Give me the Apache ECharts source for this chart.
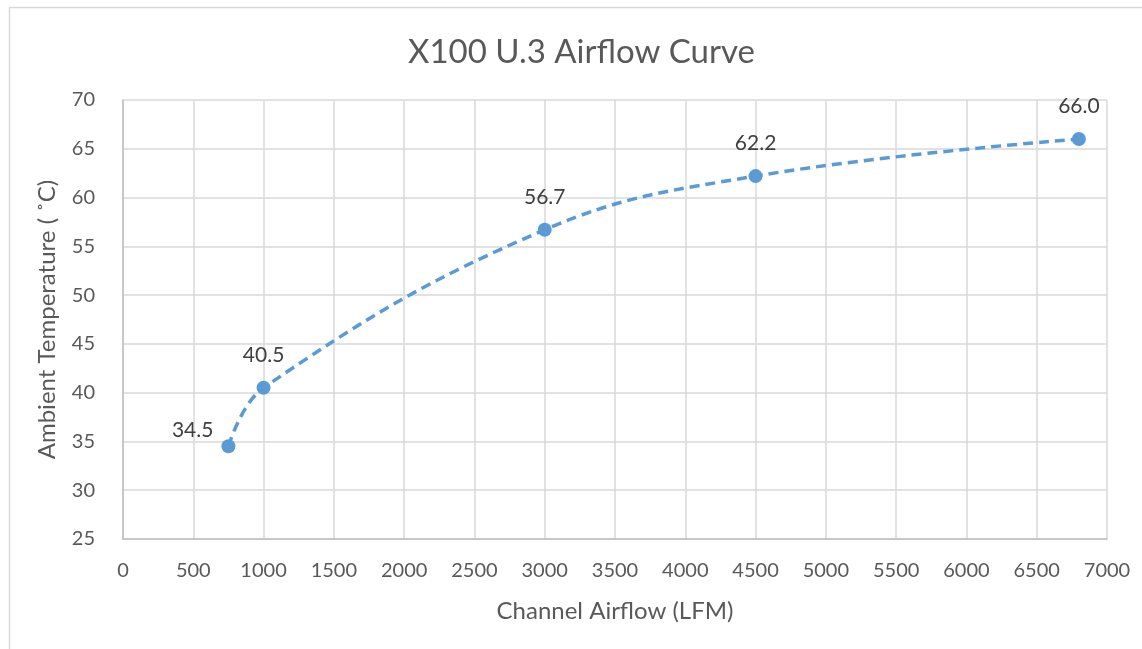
<!DOCTYPE html>
<html><head><meta charset="utf-8">
<script src="https://cdn.jsdelivr.net/npm/echarts@6/dist/echarts.min.js"></script>
<style>html,body{margin:0;padding:0;background:#fff}#c{width:1142px;height:649px}</style>
</head><body><div id="c"></div>
<script>
const airflow = [750, 1000, 3000, 4500, 6800];
const temperature = [34.5, 40.5, 56.7, 62.2, 66.0];
const labelPos = ['left', 'top', 'top', 'top', 'top'];
const titleText = 'X100 U.3 Airflow Curve';
const xName = 'Channel Airflow (LFM)';
const yName = 'Ambient Temperature ( ˚C)';

const FONT = 'Lato';
const chart = echarts.init(document.getElementById('c'), null, {renderer: 'canvas'});
chart.setOption({
  animation: false,
  backgroundColor: '#fff',
  graphic: [{type: 'rect', left: 7, top: 5, shape: {width: 1200, height: 700}, style: {fill: 'none', stroke: '#d9d9d9', lineWidth: 1.5}, silent: true, z: -1}],
  title: {text: titleText, left: 403, top: 31, textStyle: {fontFamily: FONT, fontSize: 33, fontWeight: 'normal', color: '#595959'}},
  grid: {left: 123, right: 35, top: 100, bottom: 110, containLabel: false},
  xAxis: {
    type: 'value', min: 0, max: 7000, interval: 500,
    name: xName, nameLocation: 'middle', nameGap: 60,
    nameTextStyle: {fontFamily: FONT, fontSize: 24, color: '#595959'},
    axisLine: {show: true, lineStyle: {color: '#bfbfbf', width: 1.5}},
    axisTick: {show: false},
    axisLabel: {fontFamily: FONT, fontSize: 20, color: '#595959', margin: 22, formatter: v => String(v)},
    splitLine: {show: true, lineStyle: {color: '#d9d9d9', width: 1.5}}
  },
  yAxis: {
    type: 'value', min: 25, max: 70, interval: 5,
    name: yName, nameLocation: 'middle', nameGap: 64, nameRotate: 90,
    nameTextStyle: {fontFamily: FONT, fontSize: 24, color: '#595959'},
    axisLine: {show: true, lineStyle: {color: '#bfbfbf', width: 1.5}},
    axisTick: {show: false},
    axisLabel: {fontFamily: FONT, fontSize: 20, color: '#595959', margin: 28, formatter: v => String(v)},
    splitLine: {show: true, lineStyle: {color: '#d9d9d9', width: 1.5}}
  },
  series: [{
    type: 'line',
    data: airflow.map((x, i) => ({
      value: [x, temperature[i]],
      label: labelPos[i] === 'left' ? {position: 'left', distance: 8, offset: [0, -16]} : {position: 'top', distance: 15}
    })),
    smooth: 0.4,
    symbol: 'circle', symbolSize: 14,
    itemStyle: {color: '#5B9BD5'},
    lineStyle: {color: '#5B9BD5', width: 3.5, type: [10, 6]},
    label: {show: true, fontFamily: FONT, fontSize: 21, color: '#404040',
      formatter: p => p.value[1].toFixed(1)}
  }]
});
</script></body></html>
